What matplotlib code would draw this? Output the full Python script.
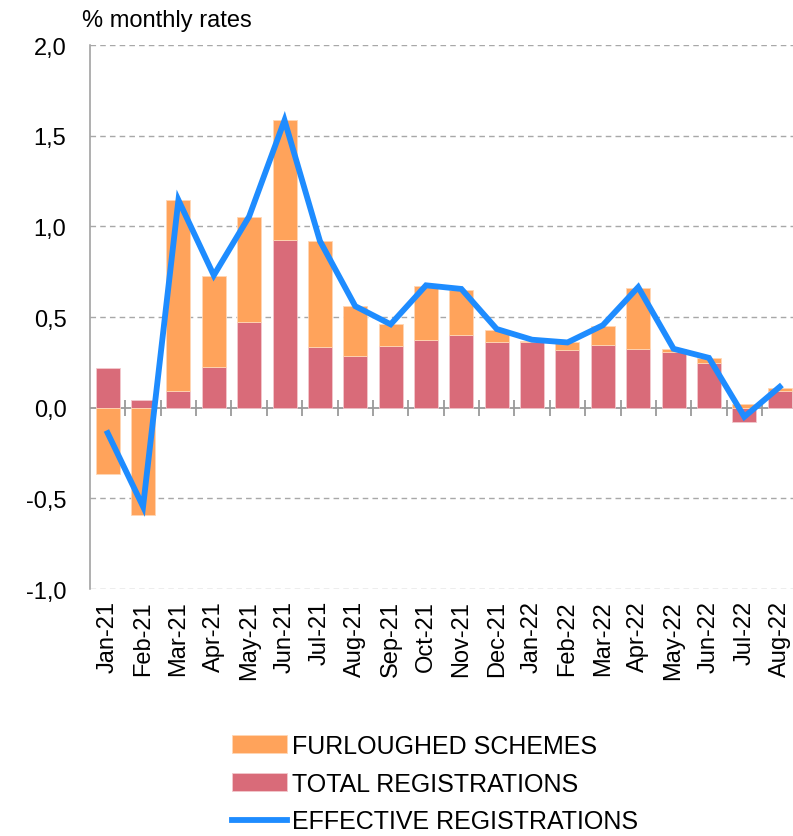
import matplotlib
matplotlib.use("Agg")
import matplotlib.pyplot as plt
import numpy as np

# monthly rates, %
months = ["Jan-21", "Feb-21", "Mar-21", "Apr-21", "May-21", "Jun-21", "Jul-21",
          "Aug-21", "Sep-21", "Oct-21", "Nov-21", "Dec-21", "Jan-22", "Feb-22",
          "Mar-22", "Apr-22", "May-22", "Jun-22", "Jul-22", "Aug-22"]
total = [0.22, 0.045, 0.09, 0.225, 0.475, 0.925, 0.335, 0.285, 0.34, 0.373,
         0.40, 0.365, 0.36, 0.32, 0.347, 0.325, 0.31, 0.246, -0.078, 0.092]
furlough = [-0.365, -0.59, 1.055, 0.50, 0.575, 0.66, 0.585, 0.275, 0.12, 0.297,
            0.25, 0.065, 0.01, 0.04, 0.103, 0.335, 0.015, 0.027, 0.02, 0.018]
effective = [-0.14, -0.545, 1.145, 0.73, 1.055, 1.585, 0.92, 0.56, 0.46, 0.675,
             0.655, 0.434, 0.375, 0.36, 0.455, 0.665, 0.325, 0.275, -0.05, 0.115]
yticks = [-1.0, -0.5, 0.0, 0.5, 1.0, 1.5, 2.0]

c_orange = "#FFA35B"
c_red = "#D96B79"
c_blue = "#1E8CFF"
c_grey = "#9A9A9A"

plt.rcParams["font.family"] = ["Liberation Sans", "DejaVu Sans"]

fig = plt.figure(figsize=(7.93, 8.37), dpi=100)
ax = fig.add_axes([0.1135, 0.295, 0.892, 0.65])

x = np.arange(len(months))
tot = np.array(total)
fur = np.array(furlough)
# furloughed stacks on top of total only when both have the same sign
base = np.where(np.sign(tot) == np.sign(fur), tot, 0.0)

ax.bar(x, tot, width=0.68, color=c_red, edgecolor="#F3C9CE", linewidth=0.6,
       label="TOTAL REGISTRATIONS", zorder=2)
ax.bar(x, fur, bottom=base, width=0.68, color=c_orange, edgecolor="#FFD6B5",
       linewidth=0.6, label="FURLOUGHED SCHEMES", zorder=2)
ax.plot(x, effective, color=c_blue, linewidth=4.2, solid_joinstyle="miter",
        label="EFFECTIVE REGISTRATIONS", zorder=3)

ax.set_xlim(-0.5, len(months) - 0.5)
ax.set_ylim(-1.0, 2.0)
ax.set_yticks(yticks)
ax.set_yticklabels([("%.1f" % v).replace(".", ",") for v in yticks], fontsize=17)
ax.tick_params(axis="y", length=0, pad=17)
ax.set_xticks(x)
ax.set_xticklabels(months, rotation=90, fontsize=17)
ax.tick_params(axis="x", length=0, pad=8)

for v in yticks:
    if v != 0:
        ax.axhline(v, color="#A8A8A8", linestyle=(0, (4, 3)), linewidth=1.0, zorder=0)
ax.axhline(0, color=c_grey, linewidth=1.3, zorder=1)

for s in ["top", "right", "bottom"]:
    ax.spines[s].set_visible(False)
ax.spines["left"].set_color(c_grey)
ax.spines["left"].set_linewidth(1.1)

# category separators on the zero line
sec = ax.secondary_xaxis(1 / 3)
sec.set_xticks(np.arange(len(months) - 1) + 0.5)
sec.set_xticklabels([])
sec.tick_params(axis="x", which="major", direction="inout", length=12,
                width=1.3, color=c_grey)
sec.spines["bottom"].set_visible(False)
sec.spines["top"].set_visible(False)

fig.text(0.103, 0.975, "% monthly rates", fontsize=17, ha="left", va="center")

h, l = ax.get_legend_handles_labels()
want = ["FURLOUGHED SCHEMES", "TOTAL REGISTRATIONS", "EFFECTIVE REGISTRATIONS"]
hs = [h[l.index(w)] for w in want]
fig.legend(hs, want, loc="upper left",
           bbox_to_anchor=(0.293, 0.122), frameon=False, fontsize=18,
           handlelength=2.2, handletextpad=0.2, labelspacing=0.55,
           borderpad=0, borderaxespad=0)

fig.savefig("out.png", dpi=100)
